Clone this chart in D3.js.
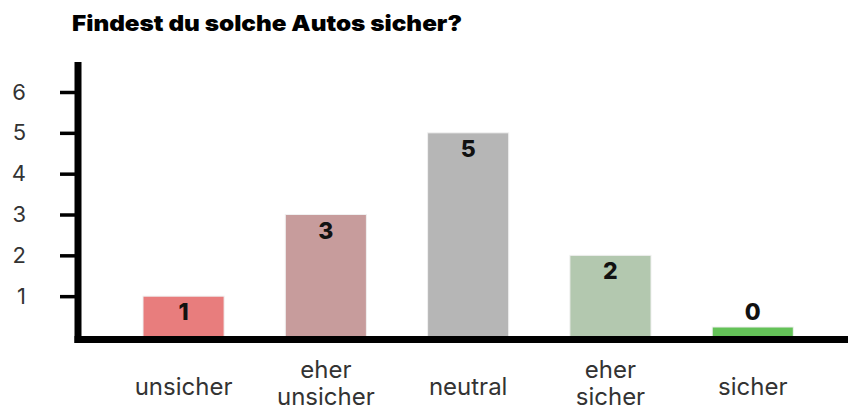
<!DOCTYPE html>
<html>
<head>
	<meta charset="UTF-8">
	<style>
		body { margin: 0; background: #fff; }
		.tick text { font-family: Inter, "Noto Sans", sans-serif; font-size: 22px; fill: #333; }
	</style>
</head>
<body>
</body>
<script src="https://d3js.org/d3.v7.min.js"></script>
<script type="text/javascript">

'use strict';

var categories = [["unsicher"], ["eher", "unsicher"], ["neutral"], ["eher", "sicher"], ["sicher"]];
var values = [1, 3, 5, 2, 0];
var colors = ["#e87d7d", "#c79c9c", "#b6b6b6", "#b3c8af", "#64c258"];
var yTicks = [1, 2, 3, 4, 5, 6];

var W = 848, H = 412;
var svg = d3.select("body").append("svg")
	.attr("width", W)
	.attr("height", H);

var x = d3.scaleBand()
	.domain(d3.range(categories.length))
	.range([112.4, 823.9])
	.paddingInner(0.43)
	.paddingOuter(0.215);

var y = d3.scaleLinear()
	.domain([0, 6])
	.range([337, 92]);

// title
svg.append("text")
	.attr("x", 72)
	.attr("y", 31)
	.attr("font-family", "Inter, 'Noto Sans', sans-serif")
	.attr("font-weight", 900)
	.attr("font-size", 22)
	.attr("textLength", 390)
	.attr("lengthAdjust", "spacingAndGlyphs")
	.attr("fill", "#000")
	.text("Findest du solche Autos sicher?");

// bars
var minH = 10;
svg.selectAll("rect.bar")
	.data(values)
	.enter().append("rect")
		.attr("class", "bar")
		.attr("x", function(d, i){ return x(i); })
		.attr("width", x.bandwidth())
		.attr("y", function(d){ return Math.min(y(d), y(0) - minH); })
		.attr("height", function(d){ return Math.max(y(0) - y(d), minH); })
		.attr("fill", function(d, i){ return colors[i]; })
		.attr("stroke", "#f0f0f0")
		.attr("stroke-width", 1);

// value labels
svg.selectAll("text.val")
	.data(values)
	.enter().append("text")
		.attr("class", "val")
		.attr("x", function(d, i){ return x(i) + x.bandwidth() / 2; })
		.attr("y", function(d){
			var top = Math.min(y(d), y(0) - minH);
			return (y(0) - top > 30) ? top + 24 : top - 7;
		})
		.attr("text-anchor", "middle")
		.attr("font-family", "Inter, 'Noto Sans', sans-serif")
		.attr("font-weight", 800)
		.attr("font-size", 23)
		.attr("fill", "#111")
		.text(function(d){ return d; });

// y axis
var yAxis = svg.append("g")
	.attr("transform", "translate(78,0)")
	.call(d3.axisLeft(y).tickValues(yTicks).tickSize(18).tickPadding(34).tickFormat(d3.format("d")));
yAxis.select(".domain").remove();
yAxis.selectAll(".tick line").attr("stroke", "#000").attr("stroke-width", 3.5);

// axis lines
svg.append("line")
	.attr("x1", 78).attr("x2", 78)
	.attr("y1", y(6) - 30).attr("y2", y(0) + 6)
	.attr("stroke", "#000").attr("stroke-width", 7);
svg.append("line")
	.attr("x1", 74.5).attr("x2", W)
	.attr("y1", y(0) + 2.5).attr("y2", y(0) + 2.5)
	.attr("stroke", "#000").attr("stroke-width", 7);

// category labels
var lab = svg.selectAll("text.cat")
	.data(categories)
	.enter().append("text")
		.attr("class", "cat")
		.attr("text-anchor", "middle")
		.attr("font-family", "Inter, 'Noto Sans', sans-serif")
		.attr("font-size", 24)
		.attr("fill", "#333")
		.attr("transform", function(d, i){ return "translate(" + (x(i) + x.bandwidth() / 2) + "," + (d.length > 1 ? 378 : 395) + ")"; });
lab.selectAll("tspan")
	.data(function(d){ return d; })
	.enter().append("tspan")
		.attr("x", 0)
		.attr("dy", function(d, i){ return i ? 27 : 0; })
		.text(function(d){ return d; });

</script>
</html>
